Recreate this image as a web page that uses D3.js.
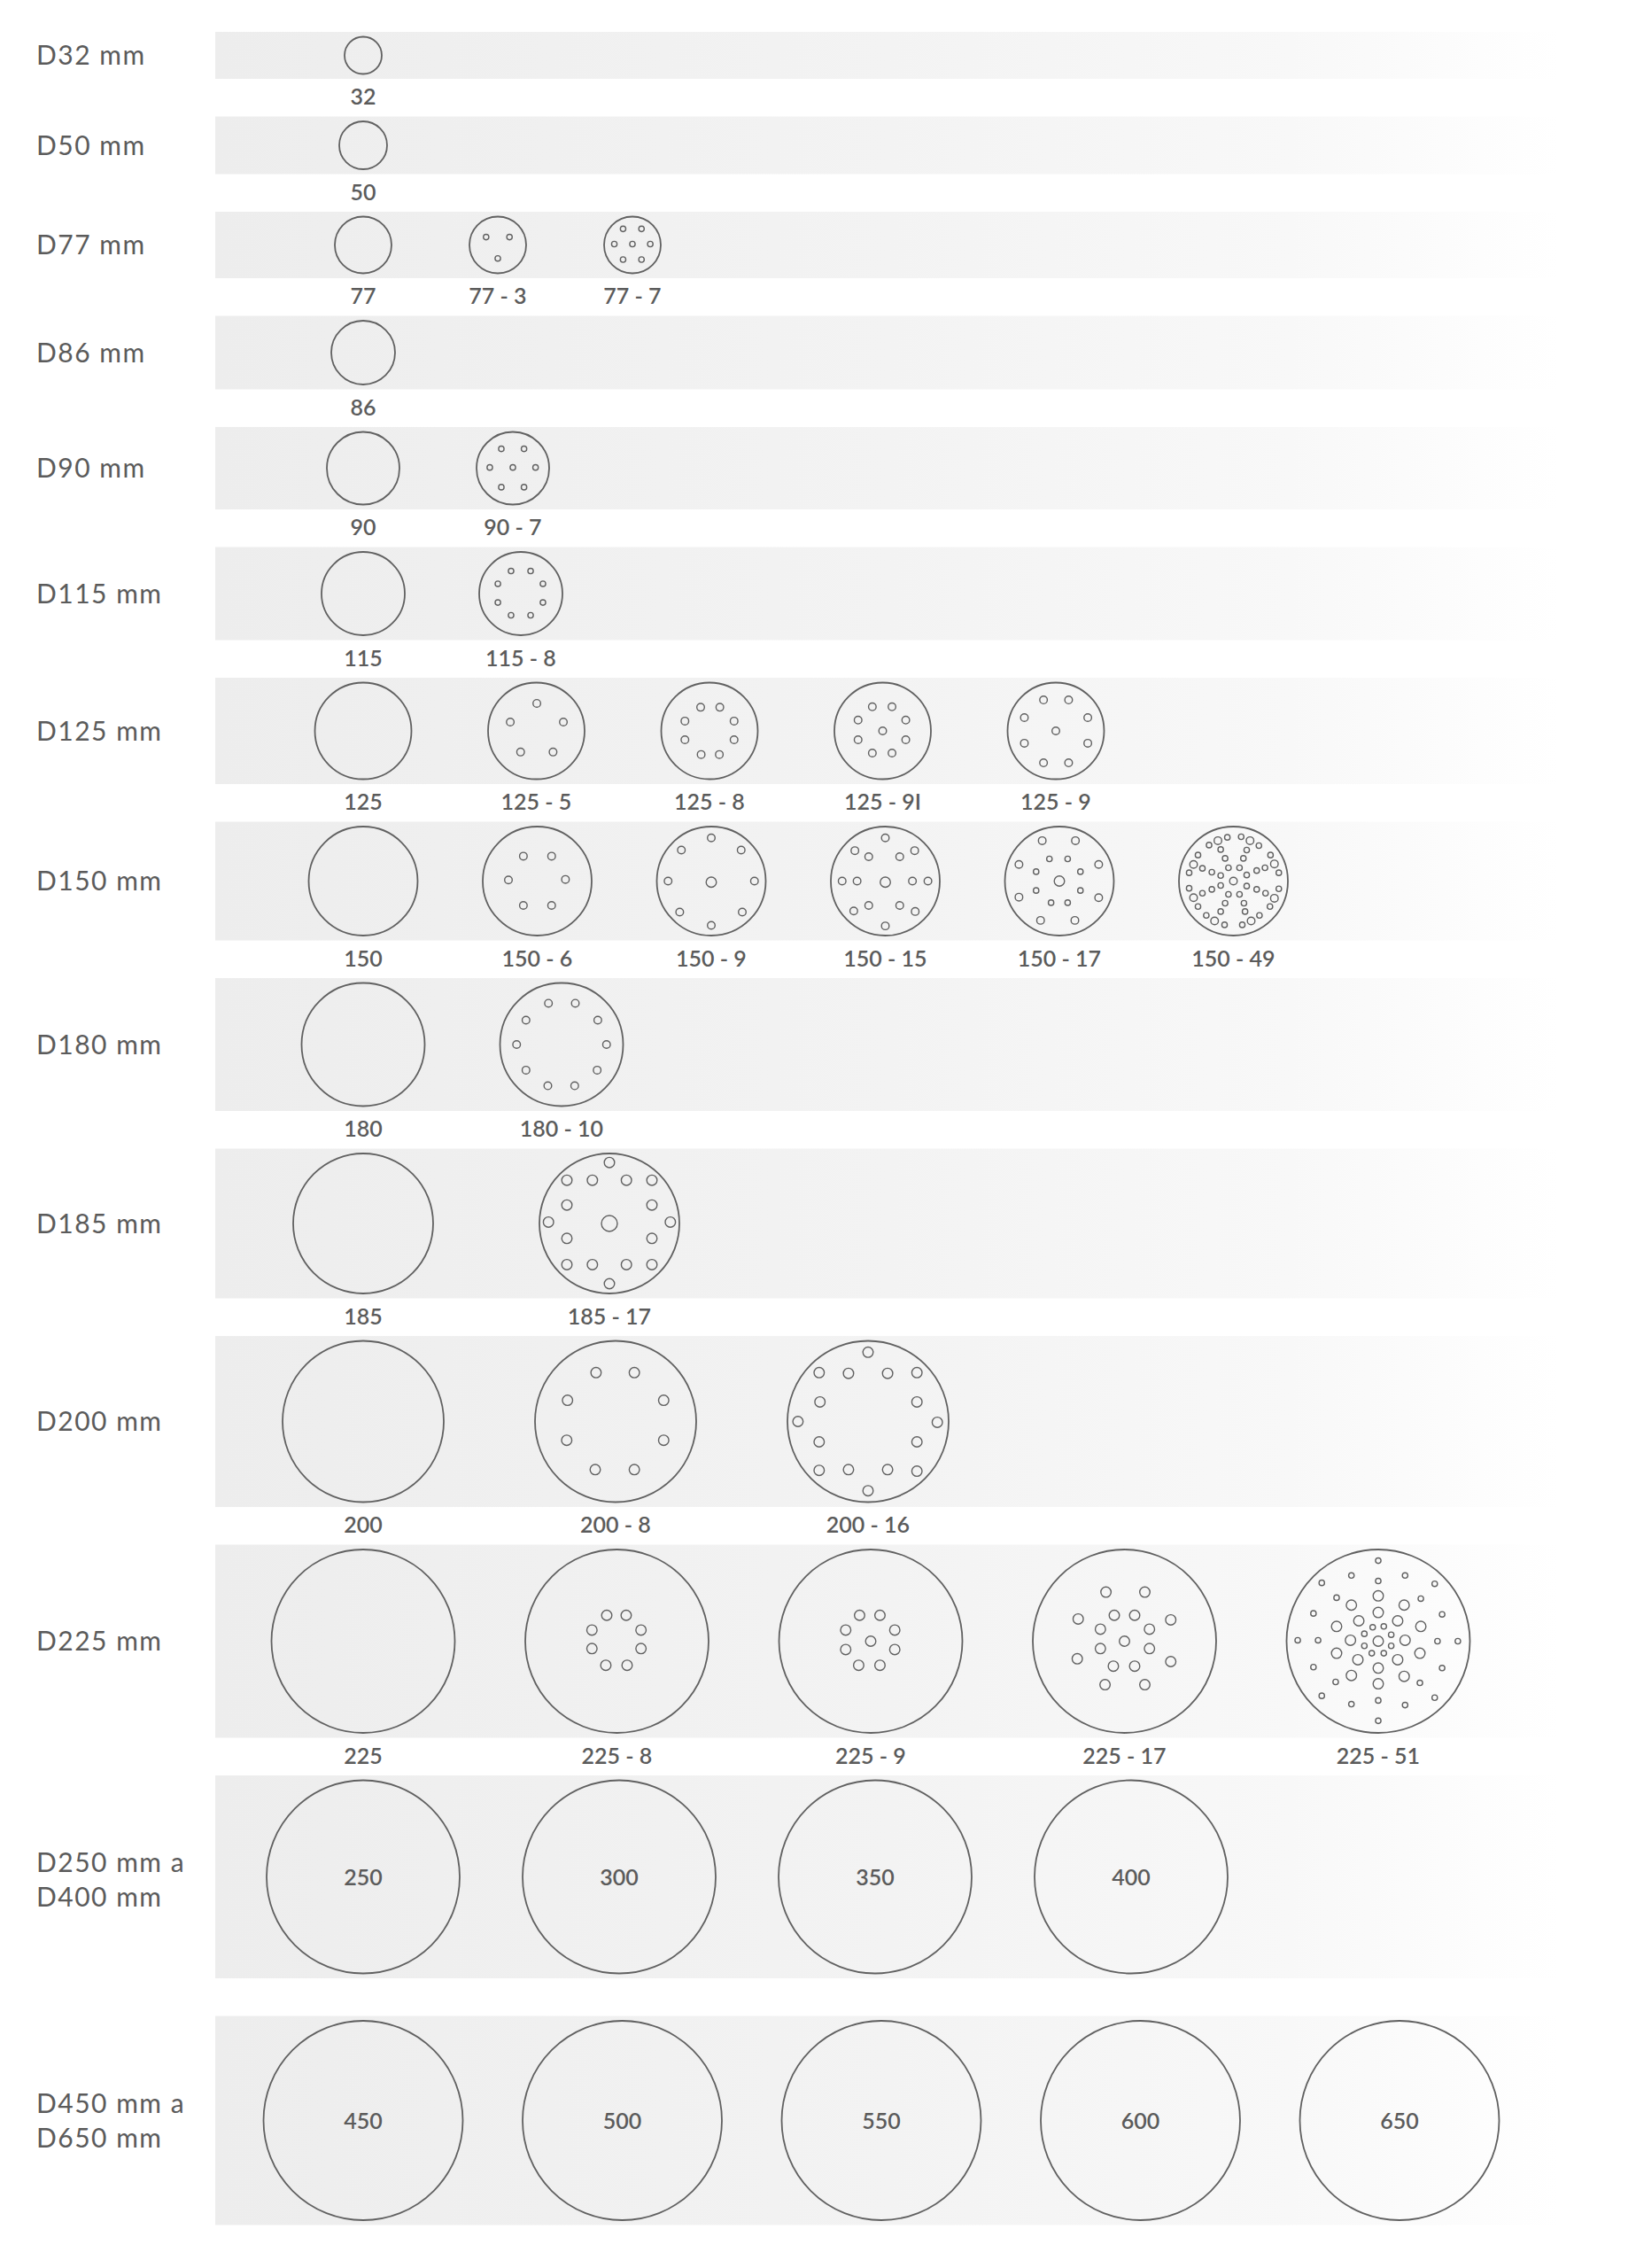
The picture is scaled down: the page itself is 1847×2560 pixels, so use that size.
<!DOCTYPE html>
<html>
<head>
<meta charset="utf-8">
<script src="https://cdn.jsdelivr.net/npm/d3@7"></script>
<style>
  body { margin: 0; background: #fff; }
  svg text { font-family: Lato, "Open Sans", sans-serif; fill: #5b5b5b; }
</style>
</head>
<body>
<div id="chart"></div>
<script>
// ---- data ----
const rowLabels = [
  ["D32 mm"], ["D50 mm"], ["D77 mm"], ["D86 mm"], ["D90 mm"], ["D115 mm"],
  ["D125 mm"], ["D150 mm"], ["D180 mm"], ["D185 mm"], ["D200 mm"], ["D225 mm"],
  ["D250 mm a", "D400 mm"], ["D450 mm a", "D650 mm"]
];
const rowDiameters = [32, 50, 77, 86, 90, 115, 125, 150, 180, 185, 200, 225, 250, 450];
const discCodes = [
  ["32"], ["50"], ["77", "77 - 3", "77 - 7"], ["86"], ["90", "90 - 7"], ["115", "115 - 8"],
  ["125", "125 - 5", "125 - 8", "125 - 9I", "125 - 9"],
  ["150", "150 - 6", "150 - 9", "150 - 15", "150 - 17", "150 - 49"],
  ["180", "180 - 10"], ["185", "185 - 17"], ["200", "200 - 8", "200 - 16"],
  ["225", "225 - 8", "225 - 9", "225 - 17", "225 - 51"],
  ["250", "300", "350", "400"], ["450", "500", "550", "600", "650"]
];

// hole positions: [x, y, hole class], x/y relative to the disc radius
const holes77_3 = [[-0.40, -0.27, "xs"], [0.40, -0.27, "xs"], [0, 0.46, "xs"]];
const holes77_7 = [[-0.32, -0.55, "xs"], [0.31, -0.55, "xs"], [-0.62, -0.03, "xs"], [0, -0.03, "xs"],
  [0.61, -0.03, "xs"], [-0.32, 0.50, "xs"], [0.31, 0.50, "xs"]];
const holes90_7 = [[-0.31, -0.52, "xs"], [0.30, -0.52, "xs"], [-0.62, -0.02, "xs"], [0, -0.02, "xs"],
  [0.61, -0.02, "xs"], [-0.31, 0.51, "xs"], [0.30, 0.51, "xs"]];
const holes115_8 = [[-0.23, -0.53, "xs"], [0.23, -0.53, "xs"], [-0.54, -0.23, "xs"], [0.52, -0.23, "xs"],
  [-0.54, 0.21, "xs"], [0.52, 0.21, "xs"], [-0.23, 0.51, "xs"], [0.23, 0.51, "xs"]];
const holes125_5 = [[0.01, -0.56, "s"], [-0.53, -0.18, "s"], [0.55, -0.18, "s"], [-0.32, 0.43, "s"], [0.34, 0.43, "s"]];
const holes125_8 = [[-0.18, -0.48, "s"], [0.21, -0.48, "s"], [-0.50, -0.20, "s"], [0.50, -0.20, "s"],
  [-0.50, 0.18, "s"], [0.50, 0.18, "s"], [-0.17, 0.48, "s"], [0.20, 0.48, "s"]];
const holes125_9I = [[-0.21, -0.49, "s"], [0.19, -0.49, "s"], [-0.50, -0.22, "s"], [0.47, -0.22, "s"], [0, 0, "s"],
  [-0.50, 0.18, "s"], [0.47, 0.18, "s"], [-0.21, 0.45, "s"], [0.19, 0.45, "s"]];
const holes125_9 = [[-0.25, -0.63, "s"], [0.26, -0.63, "s"], [-0.64, -0.27, "s"], [0.65, -0.27, "s"], [0, 0, "s"],
  [-0.64, 0.25, "s"], [0.65, 0.25, "s"], [-0.25, 0.65, "s"], [0.26, 0.65, "s"]];
const holes150_6 = [[-0.25, -0.45, "s"], [0.26, -0.45, "s"], [-0.52, -0.02, "s"], [0.51, -0.03, "s"],
  [-0.25, 0.44, "s"], [0.26, 0.44, "s"]];
const holes150_9 = [[0, -0.78, "s"], [-0.54, -0.56, "s"], [0.54, -0.56, "s"], [-0.78, 0, "s"], [0, 0.02, "m"],
  [0.78, 0, "s"], [-0.57, 0.56, "s"], [0.56, 0.56, "s"], [0, 0.80, "s"]];
const holes150_15 = [[0, -0.78, "s"], [-0.55, -0.55, "s"], [-0.30, -0.44, "s"], [0.26, -0.44, "s"], [0.53, -0.55, "s"],
  [-0.78, 0, "s"], [-0.51, 0, "s"], [0, 0.02, "m"], [0.49, 0, "s"], [0.77, 0, "s"],
  [-0.57, 0.54, "s"], [-0.30, 0.44, "s"], [0.26, 0.44, "s"], [0.54, 0.55, "s"], [0, 0.81, "s"]];
const holes150_17 = [[-0.31, -0.73, "s"], [0.29, -0.73, "s"], [-0.73, -0.30, "s"], [0.71, -0.30, "s"],
  [-0.18, -0.40, "xs"], [0.15, -0.40, "xs"], [-0.42, -0.17, "xs"], [0.38, -0.17, "xs"], [0, 0, "m"],
  [-0.42, 0.17, "xs"], [0.38, 0.17, "xs"], [-0.73, 0.29, "s"], [0.71, 0.30, "s"],
  [-0.15, 0.39, "xs"], [0.15, 0.39, "xs"], [-0.34, 0.71, "s"], [0.28, 0.71, "s"]];
const holes150_49 = [
  [-0.28, -0.73, "s"], [-0.44, -0.65, "xs"], [-0.11, -0.79, "xs"], [-0.23, -0.57, "xs"],
  [0.14, -0.80, "xs"], [0.30, -0.73, "s"], [0.46, -0.64, "xs"], [0.24, -0.56, "xs"],
  [0.67, -0.47, "xs"], [0.74, -0.31, "s"], [0.82, -0.15, "xs"], [0.57, -0.24, "xs"],
  [0.82, 0.14, "xs"], [0.74, 0.31, "s"], [0.66, 0.46, "xs"], [0.58, 0.22, "xs"],
  [0.47, 0.62, "xs"], [0.32, 0.72, "s"], [0.16, 0.79, "xs"], [0.21, 0.55, "xs"],
  [-0.16, 0.79, "xs"], [-0.34, 0.72, "s"], [-0.49, 0.62, "xs"], [-0.23, 0.55, "xs"],
  [-0.80, 0.13, "xs"], [-0.72, 0.30, "s"], [-0.64, 0.46, "xs"], [-0.56, 0.22, "xs"],
  [-0.64, -0.47, "xs"], [-0.72, -0.30, "s"], [-0.80, -0.15, "xs"], [-0.56, -0.23, "xs"],
  [-0.15, -0.41, "xs"], [0.18, -0.41, "xs"], [-0.09, -0.24, "xs"], [0.11, -0.24, "xs"],
  [-0.39, -0.16, "xs"], [-0.23, -0.10, "xs"], [0.42, -0.19, "xs"], [0.24, -0.11, "xs"],
  [-0.39, 0.15, "xs"], [-0.23, 0.08, "xs"], [0.42, 0.15, "xs"], [0.24, 0.09, "xs"],
  [-0.09, 0.24, "xs"], [0.11, 0.24, "xs"], [-0.15, 0.40, "xs"], [0.19, 0.40, "xs"],
  [0, 0, "s"]];
const holes180_10 = [[-0.21, -0.66, "s"], [0.22, -0.66, "s"], [-0.57, -0.39, "s"], [0.58, -0.39, "s"],
  [-0.72, 0, "s"], [0.72, 0, "s"], [-0.57, 0.41, "s"], [0.57, 0.41, "s"], [-0.22, 0.66, "s"], [0.21, 0.66, "s"]];
const holes185_17 = [[0, -0.86, "m"], [-0.60, -0.61, "m"], [-0.24, -0.61, "m"], [0.24, -0.61, "m"], [0.60, -0.61, "m"],
  [-0.60, -0.26, "m"], [0.60, -0.26, "m"], [-0.86, -0.02, "m"], [0, 0, "l"], [0.86, -0.02, "m"],
  [-0.60, 0.21, "m"], [0.60, 0.21, "m"], [-0.60, 0.58, "m"], [-0.24, 0.58, "m"], [0.24, 0.58, "m"],
  [0.60, 0.58, "m"], [0, 0.85, "m"]];
const holes200_8 = [[-0.24, -0.60, "m"], [0.23, -0.60, "m"], [-0.59, -0.26, "m"], [0.59, -0.26, "m"],
  [-0.60, 0.23, "m"], [0.59, 0.23, "m"], [-0.25, 0.59, "m"], [0.23, 0.59, "m"]];
const holes200_16 = [[0, -0.85, "m"], [-0.60, -0.60, "m"], [-0.24, -0.59, "m"], [0.24, -0.59, "m"], [0.60, -0.60, "m"],
  [-0.59, -0.24, "m"], [0.60, -0.24, "m"], [-0.86, 0, "m"], [0.85, 0.01, "m"], [-0.60, 0.25, "m"],
  [0.60, 0.25, "m"], [-0.60, 0.60, "m"], [-0.24, 0.59, "m"], [0.24, 0.59, "m"], [0.60, 0.61, "m"], [0, 0.85, "m"]];
const holes225_8 = [[-0.11, -0.28, "m"], [0.10, -0.28, "m"], [-0.27, -0.12, "m"], [0.26, -0.12, "m"],
  [-0.27, 0.08, "m"], [0.26, 0.08, "m"], [-0.12, 0.26, "m"], [0.11, 0.26, "m"]];
const holes225_9 = [[-0.12, -0.28, "m"], [0.10, -0.28, "m"], [-0.27, -0.12, "m"], [0.26, -0.12, "m"], [0, 0, "m"],
  [-0.27, 0.09, "m"], [0.26, 0.09, "m"], [-0.13, 0.26, "m"], [0.10, 0.26, "m"]];
const holes225_17 = [[-0.20, -0.53, "m"], [0.22, -0.53, "m"], [-0.50, -0.24, "m"], [0.50, -0.23, "m"],
  [-0.11, -0.28, "m"], [0.11, -0.28, "m"], [-0.26, -0.13, "m"], [0.27, -0.13, "m"], [0, 0, "m"],
  [-0.26, 0.08, "m"], [0.27, 0.08, "m"], [-0.51, 0.19, "m"], [0.50, 0.22, "m"],
  [-0.12, 0.27, "m"], [0.11, 0.27, "m"], [-0.21, 0.47, "m"], [0.22, 0.47, "m"]];
const holes225_51 = [
  [0, -0.87, "xs"], [-0.29, -0.71, "xs"], [0.29, -0.71, "xs"], [-0.61, -0.63, "xs"], [0.61, -0.62, "xs"],
  [0, -0.65, "xs"], [-0.45, -0.47, "xs"], [0.46, -0.46, "xs"], [0, -0.49, "m"], [-0.29, -0.39, "m"],
  [0.28, -0.39, "m"], [-0.70, -0.30, "xs"], [0.69, -0.29, "xs"], [0, -0.31, "m"], [-0.21, -0.22, "m"],
  [0.21, -0.22, "m"], [-0.45, -0.16, "m"], [0.46, -0.16, "m"], [-0.06, -0.15, "xs"], [0.06, -0.16, "xs"],
  [-0.15, -0.08, "xs"], [0.14, -0.07, "xs"], [-0.87, -0.01, "xs"], [-0.65, -0.01, "xs"], [-0.30, -0.01, "m"],
  [0, 0, "m"], [0.29, -0.01, "m"], [0.64, 0, "xs"], [0.86, 0, "xs"], [-0.15, 0.05, "xs"],
  [0.14, 0.05, "xs"], [-0.07, 0.13, "xs"], [0.06, 0.13, "xs"], [-0.45, 0.13, "m"], [0.45, 0.13, "m"],
  [-0.22, 0.20, "m"], [0.21, 0.20, "m"], [-0.70, 0.28, "xs"], [0.69, 0.29, "xs"], [0, 0.29, "m"],
  [-0.29, 0.37, "m"], [0.28, 0.38, "m"], [-0.46, 0.44, "xs"], [0.45, 0.45, "xs"], [0, 0.46, "m"],
  [-0.61, 0.59, "xs"], [0.61, 0.61, "xs"], [0, 0.64, "xs"], [-0.29, 0.68, "xs"], [0.29, 0.69, "xs"],
  [0, 0.86, "xs"]];

const holesByCode = {
  "77 - 3": holes77_3, "77 - 7": holes77_7, "90 - 7": holes90_7, "115 - 8": holes115_8,
  "125 - 5": holes125_5, "125 - 8": holes125_8, "125 - 9I": holes125_9I, "125 - 9": holes125_9,
  "150 - 6": holes150_6, "150 - 9": holes150_9, "150 - 15": holes150_15, "150 - 17": holes150_17,
  "150 - 49": holes150_49, "180 - 10": holes180_10, "185 - 17": holes185_17,
  "200 - 8": holes200_8, "200 - 16": holes200_16,
  "225 - 8": holes225_8, "225 - 9": holes225_9, "225 - 17": holes225_17, "225 - 51": holes225_51
};

// ---- layout ----
const width = 1847, height = 2560;
const bandX0 = 243, bandX1 = 1760;
const colX0 = 410;
const top0 = 36, pad = 4.5, gap = 42.5;
const stroke = "#616161";

// disc diameter (mm) -> drawn radius (px), as the picture draws them
const discRadius = d3.scaleLinear()
  .domain([32, 50, 77, 86, 90, 115, 125, 150, 180, 185, 200, 225, 250, 400, 450, 650])
  .range([22, 28, 33, 37, 42, 48, 55.5, 62.5, 70.5, 80, 92, 104.5, 110, 110, 113.5, 113.5]);
// row diameter -> distance between disc centres
const rowPitch = d3.scaleLinear()
  .domain([32, 77, 90, 115, 125, 150, 180, 185, 200, 225, 250, 450])
  .range([150, 152, 169, 178, 195.5, 196.5, 224, 278, 285, 286.5, 289, 292.5]);
const holeRadius = d3.scaleOrdinal()
  .domain(["xs", "s", "m", "l"])
  .range([3.1, 4.3, 5.8, 9]);

let cursor = top0;
const rows = rowDiameters.map((dia, i) => {
  const discs = discCodes[i].map((code, j) => ({ code, dia: parseInt(code), j }));
  const rMax = d3.max(discs, d => discRadius(d.dia));
  const h = 2 * rMax + 2 * pad;
  const row = { i, dia, label: rowLabels[i], discs, y0: cursor, h, cy: cursor + h / 2, inside: dia >= 250 };
  cursor += h + gap;
  return row;
});

const svg = d3.select("#chart").append("svg")
  .attr("width", width)
  .attr("height", height);

svg.append("rect")
  .attr("width", width)
  .attr("height", height)
  .attr("fill", "#fff");

let grad = svg.append("defs").append("linearGradient")
  .attr("id", "band-fade")
  .attr("x1", "0%").attr("x2", "100%")
  .attr("y1", "0%").attr("y2", "0%");
grad.selectAll("stop")
  .data([["0%", "#ededed"], ["50%", "#f3f3f3"], ["80%", "#f8f8f8"], ["100%", "#ffffff"]])
  .enter().append("stop")
  .attr("offset", d => d[0])
  .attr("stop-color", d => d[1]);

let rowG = svg.selectAll("g.row")
  .data(rows)
  .enter().append("g")
  .classed("row", true);

rowG.append("rect")
  .attr("x", bandX0)
  .attr("y", d => d.y0)
  .attr("width", bandX1 - bandX0)
  .attr("height", d => d.h)
  .attr("fill", "url(#band-fade)");

// row titles on the left
rowG.each(function (row) {
  let n = row.label.length;
  let lineH = 39;
  let yMid = row.cy + (row.dia === 250 ? 3 : 0);
  d3.select(this).selectAll("text.row-label")
    .data(row.label)
    .enter().append("text")
    .classed("row-label", true)
    .attr("x", 41)
    .attr("y", (d, k) => yMid + (k - (n - 1) / 2) * lineH)
    .attr("dy", "0.36em")
    .attr("font-size", 30)
    .attr("letter-spacing", 1.5)
    .text(d => d);
});

// discs
rowG.each(function (row) {
  let g = d3.select(this);
  let x = d3.scaleLinear().domain([0, 1]).range([colX0, colX0 + rowPitch(row.dia)]);

  let discG = g.selectAll("g.disc")
    .data(row.discs)
    .enter().append("g")
    .classed("disc", true);

  discG.append("circle")
    .attr("cx", d => x(d.j))
    .attr("cy", row.cy)
    .attr("r", d => discRadius(d.dia) - 1)
    .attr("fill", "none")
    .attr("stroke", stroke)
    .attr("stroke-width", 1.8);

  discG.each(function (d) {
    let holes = holesByCode[d.code];
    if (!holes) return;
    let r = discRadius(d.dia);
    let hx = d3.scaleLinear().domain([-1, 1]).range([x(d.j) - r, x(d.j) + r]);
    let hy = d3.scaleLinear().domain([-1, 1]).range([row.cy - r, row.cy + r]);
    d3.select(this).selectAll("circle.hole")
      .data(holes)
      .enter().append("circle")
      .classed("hole", true)
      .attr("cx", h => hx(h[0]))
      .attr("cy", h => hy(h[1]))
      .attr("r", h => holeRadius(h[2]))
      .attr("fill", "none")
      .attr("stroke", stroke)
      .attr("stroke-width", 1.4);
  });

  discG.append("text")
    .attr("x", d => x(d.j))
    .attr("y", row.inside ? row.cy : row.y0 + row.h + 29)
    .attr("dy", row.inside ? "0.36em" : 0)
    .attr("text-anchor", "middle")
    .attr("font-size", 25)
    .attr("font-weight", 600)
    .text(d => d.code);
});
</script>
</body>
</html>
